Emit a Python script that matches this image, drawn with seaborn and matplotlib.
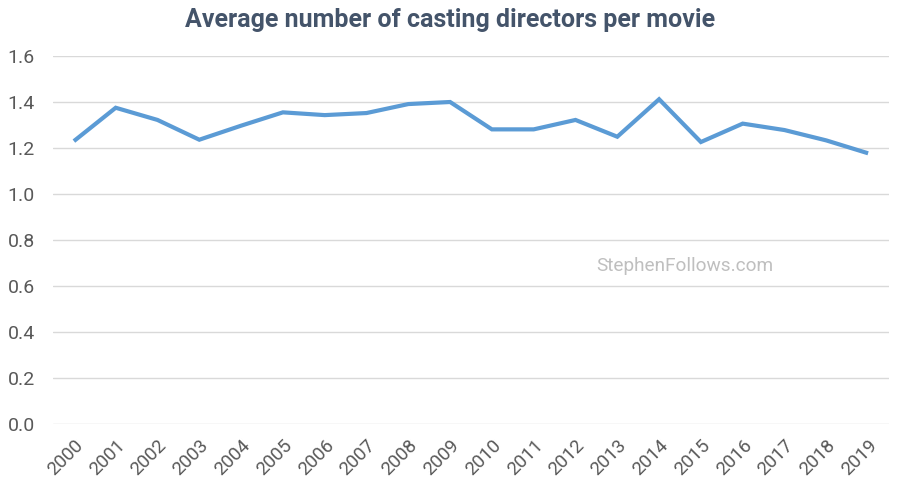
import pandas as pd
import matplotlib.pyplot as plt
import seaborn as sns

# Data
years = ['2000', '2001', '2002', '2003', '2004', '2005', '2006', '2007', '2008', '2009',
         '2010', '2011', '2012', '2013', '2014', '2015', '2016', '2017', '2018', '2019']
avg_directors = [1.23, 1.375, 1.322, 1.236, 1.297, 1.355, 1.343, 1.352, 1.391, 1.400,
                 1.281, 1.281, 1.322, 1.249, 1.412, 1.226, 1.306, 1.278, 1.233, 1.177]
y_ticks = [0.0, 0.2, 0.4, 0.6, 0.8, 1.0, 1.2, 1.4, 1.6]

df = pd.DataFrame({'year': years, 'value': avg_directors})
df['pos'] = range(len(df))

sns.set_theme(style='white')
plt.rcParams['font.family'] = ['Roboto', 'DejaVu Sans']

fig = plt.figure(figsize=(9, 4.96), dpi=100)
ax = fig.add_axes([53 / 900, 1 - 424 / 496, (889 - 53) / 900, (424 - 56) / 496])

sns.lineplot(data=df, x='pos', y='value', ax=ax, color='#5B9BD5', linewidth=3.0,
             solid_capstyle='butt', solid_joinstyle='miter')

ax.set_xlim(-0.5, len(years) - 0.5)
ax.set_ylim(0, 1.6)
ax.set_yticks(y_ticks)
ax.set_yticklabels([f'{t:.1f}' for t in y_ticks])
ax.set_xticks(df['pos'])
ax.set_xticklabels(years, rotation=45, ha='right', rotation_mode='anchor')

ax.grid(axis='y', color='#D9D9D9', linewidth=1.0)
ax.set_axisbelow(True)
for s in ax.spines.values():
    s.set_visible(False)
ax.tick_params(axis='y', length=0, pad=13, labelsize=14, labelcolor='#595959')
ax.tick_params(axis='x', length=0, pad=9, labelsize=13.5, labelcolor='#595959')
ax.set_xlabel('')
ax.set_ylabel('')

fig.text(0.5, 1 - 20 / 496, 'Average number of casting directors per movie',
         ha='center', va='center', fontsize=18, fontweight='bold', color='#44546A')
ax.text(0.756, 0.429, 'StephenFollows.com', transform=ax.transAxes, ha='center',
        va='center', fontsize=13.7, color='#BFBFBF')

fig.savefig('out.png', dpi=100)
